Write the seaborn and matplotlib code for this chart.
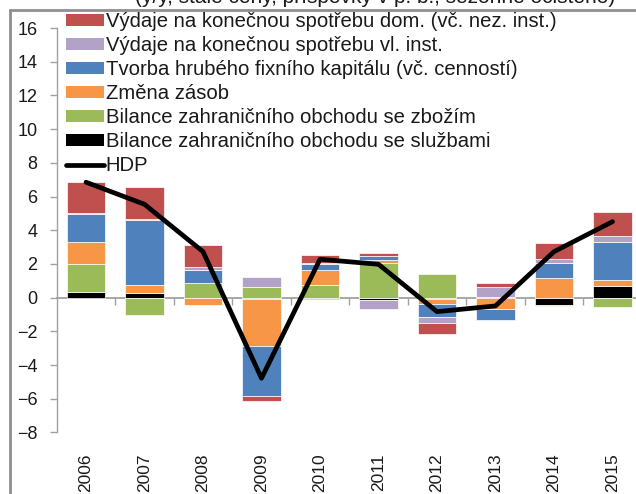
import numpy as np
import matplotlib
matplotlib.use('Agg')
import matplotlib.pyplot as plt
import seaborn as sns
from matplotlib.patches import Patch
from matplotlib.lines import Line2D

years = ['2006', '2007', '2008', '2009', '2010', '2011', '2012', '2013', '2014', '2015']
households = [1.83, 1.90, 1.30, -0.32, 0.45, 0.20, -0.62, 0.22, 0.95, 1.44]
npish = [0.05, 0.05, 0.20, 0.62, 0.06, -0.50, -0.38, 0.60, 0.20, 0.36]
gfcf = [1.68, 3.86, 0.77, -2.95, 0.40, 0.23, -0.73, -0.67, 0.93, 2.23]
inventories = [1.32, 0.50, -0.43, -2.80, 0.85, 0.20, -0.30, -0.67, 1.15, 0.38]
goods = [1.64, -1.03, 0.85, 0.63, 0.77, 2.04, 1.39, 0.03, -0.07, -0.55]
services = [0.35, 0.25, 0.00, -0.08, -0.08, -0.15, -0.10, 0.02, -0.43, 0.69]
gdp = [6.85, 5.54, 2.73, -4.78, 2.28, 1.98, -0.83, -0.49, 2.73, 4.51]

labels = ['Výdaje na konečnou spotřebu dom. (vč. nez. inst.)',
          'Výdaje na konečnou spotřebu vl. inst.',
          'Tvorba hrubého fixního kapitálu (vč. cenností)',
          'Změna zásob',
          'Bilance zahraničního obchodu se zbožím',
          'Bilance zahraničního obchodu se službami',
          'HDP']
title = '(y/y, stálé ceny, příspěvky v p. b., sezónně očištěno)'

colors = {'red': '#C0504D', 'purple': '#B3A2C7', 'blue': '#4F81BD',
          'orange': '#F79646', 'green': '#9BBB59', 'black': '#000000'}

sns.set_theme(style='white')
plt.rcParams['font.family'] = ['Liberation Sans', 'DejaVu Sans']

W, H = 636, 494
fig = plt.figure(figsize=(W / 100, H / 100), dpi=100)
ax = fig.add_axes([56.75 / W, 1 - 432.5 / H, 585 / W, (432.5 - 28) / H])
ax.patch.set_alpha(0)

stack = [(services, colors['black']), (goods, colors['green']),
         (inventories, colors['orange']), (gfcf, colors['blue']),
         (npish, colors['purple']), (households, colors['red'])]
pos = np.zeros(len(years))
neg = np.zeros(len(years))
for vals, col in stack:
    v = np.array(vals, dtype=float)
    bottom = np.where(v >= 0, pos, neg)
    sns.barplot(x=years, y=v, bottom=bottom, color=col, saturation=1,
                width=0.65, errorbar=None, ax=ax, edgecolor='white',
                linewidth=0.5, zorder=2)
    pos += np.where(v >= 0, v, 0)
    neg += np.where(v < 0, v, 0)

sns.lineplot(x=np.arange(len(years)), y=gdp, color='black', linewidth=3.4,
             ax=ax, zorder=4, legend=False)

ax.set_xlim(-0.5, 9.5)
ax.set_ylim(-8, 16)
ax.set_yticks(range(-8, 17, 2))
ax.tick_params(axis='y', length=5, width=1, color='#a0a0a0', pad=9,
               labelsize=13, labelcolor='#1a1a1a', left=True)
for s in ['top', 'right']:
    ax.spines[s].set_visible(False)
ax.spines['left'].set_color('#a0a0a0')
ax.spines['left'].set_linewidth(1)
ax.spines['bottom'].set_position(('data', 0))
ax.spines['bottom'].set_color('#a0a0a0')
ax.spines['bottom'].set_linewidth(1.3)
ax.spines['bottom'].set_zorder(1)
ax.set_xticks(np.arange(0.5, 9.5, 1))
ax.set_xticklabels([])
ax.tick_params(axis='x', length=5, width=1, color='#a0a0a0', bottom=True,
               direction='out')
ax.set_xlabel('')
ax.set_ylabel('')

sec = ax.secondary_xaxis('bottom')
sec.set_xticks(range(len(years)), labels=years, rotation=90)
sec.tick_params(length=0, pad=15, labelsize=12.5, labelcolor='#1a1a1a')
sec.spines['bottom'].set_visible(False)

# outer frame
fig.add_artist(Line2D([10 / W, 1.0], [1 - 10 / H] * 2, transform=fig.transFigure,
                      color='#8f8f8f', lw=2))
fig.add_artist(Line2D([10 / W] * 2, [0, 1 - 10 / H], transform=fig.transFigure,
                      color='#8f8f8f', lw=2))
fig.text(375 / W, 1 - 3 / H, title, ha='center', va='baseline', fontsize=15,
         color='#1a1a1a')

handles = [Patch(facecolor=colors['red'], edgecolor='none'),
           Patch(facecolor=colors['purple'], edgecolor='none'),
           Patch(facecolor=colors['blue'], edgecolor='none'),
           Patch(facecolor=colors['orange'], edgecolor='none'),
           Patch(facecolor=colors['green'], edgecolor='none'),
           Patch(facecolor=colors['black'], edgecolor='none'),
           Line2D([], [], color='black', lw=3.4)]
fig.legend(handles, labels, loc='upper left', bbox_to_anchor=(66 / W, 1 - 12 / H),
           frameon=False, fontsize=14.6, handlelength=1.85, handleheight=0.5,
           handletextpad=0.1, labelspacing=0.25, borderpad=0, borderaxespad=0,
           labelcolor='#1a1a1a')

fig.savefig('out.png', dpi=100)
